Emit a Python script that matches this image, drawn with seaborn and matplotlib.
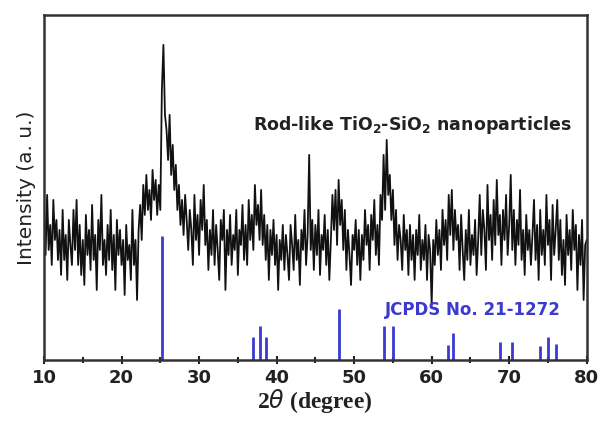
import numpy as np
import pandas as pd
import seaborn as sns
import matplotlib.pyplot as plt

# XRD trace, 0.2 degree steps from 10 to 80 (intensity in arbitrary units)
two_theta_start = 10.0
two_theta_step = 0.2
intensity = [
    150, 105, 165, 110, 135,   95, 160, 120, 140, 100,   130, 85, 150, 100, 125,
    80, 140, 115, 95, 150,     110, 160, 95, 135, 85,    120, 75, 145, 105, 130,
    90, 155, 100, 125, 70,     140, 110, 165, 95, 120,   85, 135, 100, 150, 90,
    125, 70, 140, 105, 130,    95, 120, 65, 135, 100,    115, 80, 150, 95, 120,
    60, 130, 155, 120, 175,    145, 185, 150, 170, 140,  190, 160, 180, 145, 175,
    150, 270, 315, 245, 230,   200, 245, 185, 215, 170,  195, 150, 175, 135, 160,
    125, 165, 140, 110, 150,   130, 95, 165, 120, 145,   105, 160, 130, 175, 115,
    140, 90, 130, 105, 150,    95, 135, 110, 80, 140,    120, 150, 70, 130, 105,
    145, 95, 125, 110, 150,    85, 130, 115, 155, 100,   135, 95, 160, 120, 145,
    110, 175, 135, 155, 120,   170, 115, 145, 100, 135,  80, 130, 105, 140, 95,
    125, 70, 120, 100, 135,    90, 125, 105, 80, 135,    115, 90, 145, 100, 120,
    75, 130, 110, 150, 95,     125, 205, 110, 140, 90,   135, 105, 150, 85, 125,
    110, 145, 95, 130, 80,     120, 165, 130, 170, 115,  180, 135, 160, 110, 150,
    90, 130, 105, 75, 125,     110, 140, 95, 130, 80,    125, 100, 150, 115, 135,
    90, 145, 120, 160, 105,    135, 95, 165, 140, 205,   150, 220, 165, 185, 140,
    170, 115, 150, 100, 135,   120, 90, 145, 110, 130,   85, 135, 100, 125, 80,
    130, 105, 145, 90, 120,    100, 135, 80, 125, 110,   55, 120, 95, 140, 105,
    130, 90, 150, 115, 140,    100, 165, 125, 170, 110,  150, 120, 135, 90, 145,
    110, 80, 130, 100, 150,    95, 125, 105, 140, 85,    120, 165, 105, 150, 130,
    90, 175, 120, 145, 100,    160, 115, 180, 125, 145,  95, 150, 120, 165, 105,
    135, 185, 110, 150, 95,    140, 115, 170, 100, 130,  85, 145, 110, 130, 95,
    125, 160, 100, 135, 80,    150, 105, 130, 95, 165,   115, 140, 80, 155, 105,
    130, 160, 100, 140, 85,    120, 75, 145, 105, 130,   90, 150, 110, 135, 70,
    125, 95, 140, 60, 115,     120,
]
two_theta = two_theta_start + two_theta_step * np.arange(len(intensity))

# JCPDS 21-1272 (anatase) reference lines
ref_pos = [25.28, 36.95, 37.80, 38.58, 48.05, 53.89, 55.06, 62.12, 62.69,
           68.76, 70.31, 74.03, 75.03, 76.02]
ref_height = [124, 23, 34, 23, 51, 34, 34, 15, 27, 18, 18, 14, 23, 16]

df = pd.DataFrame({'two_theta': two_theta, 'intensity': intensity})
ref = pd.DataFrame({'pos': ref_pos, 'height': ref_height})

sns.set_style('ticks')
fig = plt.figure(figsize=(5.99, 4.25), dpi=100)
ax = fig.add_axes([0.0735, 0.153, 0.906, 0.812])

sns.lineplot(data=df, x='two_theta', y='intensity', ax=ax, color='#111111', lw=1.3)
ax.vlines(ref['pos'], 0, ref['height'], color='#3a3ad0', lw=2.0)

ax.set_xlim(10, 80)
ax.set_ylim(0, 345)
ax.set_xticks(range(10, 81, 10))
ax.set_xticks(range(15, 80, 10), minor=True)
ax.set_yticks([])
ax.tick_params(axis='x', which='both', direction='inout', length=6, width=1.5, colors='#222222')
ax.tick_params(axis='x', which='minor', length=4)
for lab in ax.get_xticklabels():
    lab.set_fontweight('bold')
    lab.set_fontsize(13)
    lab.set_color('#222222')
for sp in ax.spines.values():
    sp.set_linewidth(1.8)
    sp.set_color('#333333')

ax.set_ylabel('Intensity (a. u.)', fontsize=14.5, color='#222222', labelpad=6)
ax.set_xlabel(r'2$\theta$ (degree)', fontsize=17, fontweight='bold',
              family='Liberation Serif', color='#222222', labelpad=0)

ax.text(37.0, 235, r'Rod-like TiO$_\mathbf{2}$-SiO$_\mathbf{2}$ nanoparticles',
        fontsize=12.5, fontweight='bold', color='#222222', va='center')
ax.text(54.0, 50, 'JCPDS No. 21-1272', fontsize=12, fontweight='bold',
        color='#3a3ad0', va='center')

plt.savefig('out.png', dpi=100)
